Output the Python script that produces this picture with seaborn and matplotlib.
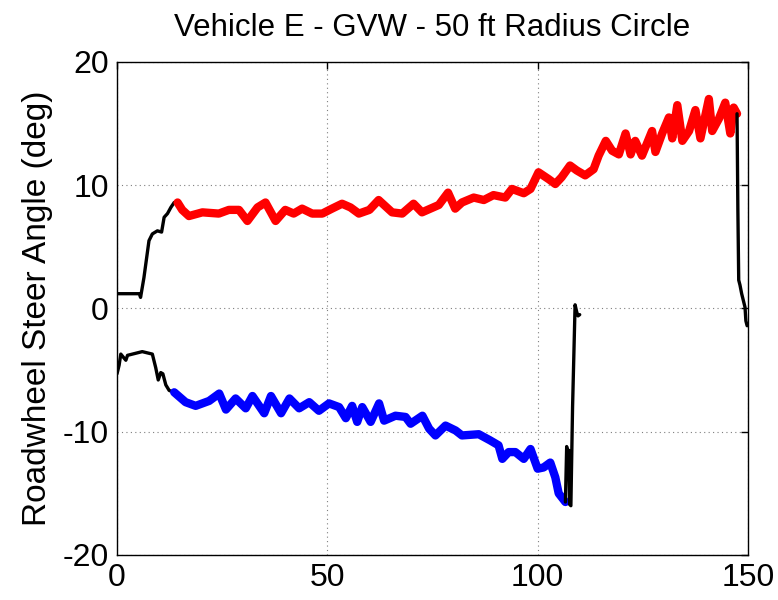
import matplotlib
matplotlib.use("Agg")
import matplotlib.pyplot as plt
import seaborn as sns
import pandas as pd

# Steering trace, split into the phases of the manoeuvre (time in s, angle in deg)
right_entry_t = [0.0, 2.0, 5.3, 5.6, 6.4, 7.6, 8.4, 9.6, 10.6, 11.2, 12.0, 12.8, 13.6, 14.4]
right_entry_y = [1.2, 1.2, 1.2, 0.9, 2.5, 5.5, 6.05, 6.3, 6.2, 7.4, 7.7, 8.2, 8.6, 8.6]

right_steady_t = [14.4, 15.5, 17.1, 20.3, 24.2, 26.6, 29.0, 31.0, 33.4, 35.3, 37.7, 40.0,
                  42.0, 44.0, 46.4, 48.8, 51.1, 53.5, 55.5, 57.5, 60.0, 62.2, 65.4, 67.8,
                  70.5, 72.5, 76.5, 78.7, 80.4, 82.0, 84.8, 87.2, 89.5, 92.3, 93.9, 96.7,
                  98.3, 100.2, 102.6, 104.2, 105.7, 107.7, 109.3, 111.3, 113.3, 114.5,
                  116.2, 117.7, 119.3, 120.9, 122.1, 123.2, 124.8, 127.2, 128.0, 129.6,
                  131.2, 132.0, 133.2, 134.4, 136.0, 137.5, 138.7, 140.7, 141.5, 143.1,
                  144.6, 145.8, 146.6, 147.4]
right_steady_y = [8.6, 8.0, 7.5, 7.8, 7.7, 8.0, 8.0, 7.1, 8.2, 8.6, 7.1, 8.0,
                  7.7, 8.1, 7.7, 7.7, 8.1, 8.5, 8.2, 7.7, 8.0, 8.8, 7.8, 7.7,
                  8.5, 7.8, 8.4, 9.4, 8.1, 8.6, 9.0, 8.8, 9.2, 9.0, 9.7, 9.35,
                  9.7, 11.05, 10.5, 10.1, 10.65, 11.6, 11.2, 10.8, 11.3, 12.4,
                  13.6, 12.8, 12.5, 14.2, 12.5, 13.6, 12.4, 14.4, 12.7, 14.2,
                  15.5, 13.8, 16.5, 13.6, 14.4, 16.1, 13.8, 17.0, 14.4, 15.4,
                  16.7, 14.2, 16.3, 15.8]

right_exit_t = [147.4, 147.6, 147.8, 148.1, 148.5, 149.3, 149.5, 149.8]
right_exit_y = [15.8, 8.0, 2.3, 1.9, 1.2, 0.1, -1.0, -1.4]

left_entry_t = [0.0, 0.5, 0.9, 2.1, 2.5, 6.0, 8.4, 9.2, 9.8, 10.4, 10.9, 11.6, 12.4, 13.6]
left_entry_y = [-5.3, -4.6, -3.7, -4.2, -3.8, -3.5, -3.7, -4.8, -5.8, -5.2, -5.3, -6.2, -6.65, -6.8]

left_steady_t = [13.6, 16.3, 18.7, 21.9, 24.3, 25.9, 28.2, 30.6, 32.2, 35.0, 36.6, 39.0,
                 41.0, 43.3, 45.7, 48.0, 50.4, 52.8, 54.4, 55.9, 57.1, 58.3, 60.3, 62.3,
                 63.5, 66.2, 68.6, 69.8, 72.6, 74.2, 75.7, 78.1, 80.5, 82.0, 86.0, 88.7,
                 90.7, 91.6, 93.1, 94.7, 96.7, 98.3, 100.0, 101.4, 103.0, 104.2, 105.0, 106.6]
left_steady_y = [-6.8, -7.6, -7.9, -7.5, -6.9, -8.2, -7.3, -8.1, -7.1, -8.5, -7.1, -8.5,
                 -7.3, -8.1, -7.6, -8.3, -7.7, -8.0, -8.9, -7.9, -9.2, -8.0, -9.2, -7.7,
                 -9.1, -8.7, -8.8, -9.35, -8.7, -9.75, -10.3, -9.5, -9.9, -10.3, -10.2, -10.7,
                 -11.1, -12.2, -11.65, -11.65, -12.2, -11.4, -13.0, -12.9, -12.5, -13.7, -15.0, -15.7]

left_exit_t = [106.6, 106.9, 107.2, 107.4, 107.6, 107.9, 108.3, 108.9, 109.3, 109.6, 110.0]
left_exit_y = [-15.7, -11.2, -12.0, -11.5, -15.9, -16.0, -8.0, 0.3, -0.3, -0.6, -0.5]

x_ticks = [0, 50, 100, 150]
y_ticks = [-20, -10, 0, 10, 20]

sns.set_theme(style="white")
plt.rcParams["font.family"] = ["Liberation Sans", "DejaVu Sans"]
plt.rcParams["axes.unicode_minus"] = False

fig = plt.figure(figsize=(7.78, 6.0), dpi=100)
ax = fig.add_axes([0.1504, 0.075, 0.811, 0.8217])

segments = [
    (right_entry_t, right_entry_y, "black", 2.4),
    (right_steady_t, right_steady_y, "#ff0000", 6.0),
    (right_exit_t, right_exit_y, "black", 2.4),
    (left_entry_t, left_entry_y, "black", 2.4),
    (left_steady_t, left_steady_y, "#0000ff", 6.0),
    (left_exit_t, left_exit_y, "black", 2.4),
]
for t, y, c, lw in segments:
    df = pd.DataFrame({"t": t, "y": y})
    sns.lineplot(data=df, x="t", y="y", color=c, lw=lw, sort=False,
                 estimator=None, ax=ax, solid_joinstyle="round",
                 solid_capstyle="round")

ax.set_xlim(0, 150)
ax.set_ylim(-20, 20)
ax.set_xticks(x_ticks)
ax.set_yticks(y_ticks)
ax.grid(True, color="#7f7f7f", linestyle=(0, (1, 3)), linewidth=0.8)
for s in ax.spines.values():
    s.set_color("black")
    s.set_linewidth(1.0)
ax.tick_params(direction="in", length=5, width=1.0, top=True, right=True,
               labelsize=23, colors="black", pad=6)
ax.set_xlabel("")
ax.set_ylabel("Roadwheel Steer Angle (deg)", fontsize=24, color="black", labelpad=7)
ax.set_title("Vehicle E - GVW - 50 ft Radius Circle", fontsize=22.5, color="black", pad=19)

fig.savefig("out.png", dpi=100)
